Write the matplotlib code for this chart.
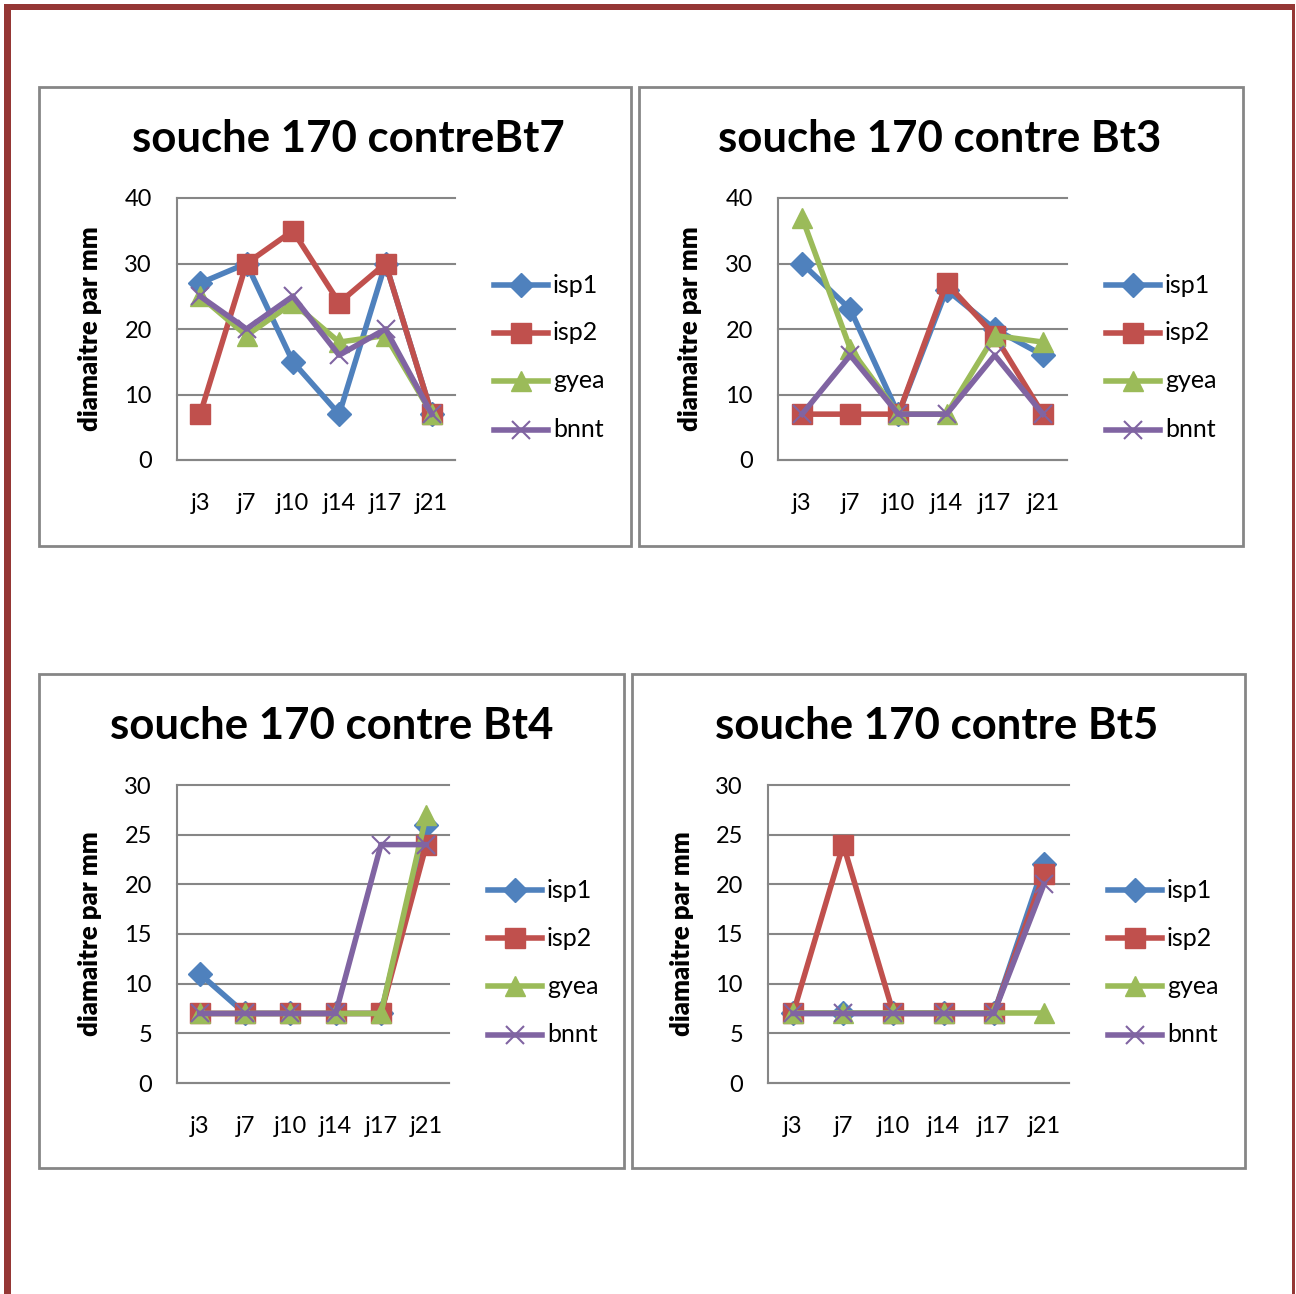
import matplotlib
matplotlib.use("Agg")
import matplotlib.pyplot as plt
from matplotlib.patches import Rectangle
from matplotlib.lines import Line2D

plt.rcParams['font.family'] = ['Lato', 'DejaVu Sans']

# ---------------- data ----------------
days = ["j3", "j7", "j10", "j14", "j17", "j21"]
series_names = ["isp1", "isp2", "gyea", "bnnt"]

titles = ["souche 170 contreBt7", "souche 170 contre Bt3",
          "souche 170 contre Bt4", "souche 170 contre Bt5"]
ylabel = "diamaitre par mm"

# Bt7
bt7_isp1 = [27, 30, 15, 7, 30, 7]
bt7_isp2 = [7, 30, 35, 24, 30, 7]
bt7_gyea = [25, 19, 24, 18, 19, 7]
bt7_bnnt = [25, 20, 25, 16, 20, 7]
# Bt3
bt3_isp1 = [30, 23, 7, 26, 20, 16]
bt3_isp2 = [7, 7, 7, 27, 19, 7]
bt3_gyea = [37, 17, 7, 7, 19, 18]
bt3_bnnt = [7, 16, 7, 7, 16, 7]
# Bt4
bt4_isp1 = [11, 7, 7, 7, 7, 26]
bt4_isp2 = [7, 7, 7, 7, 7, 24]
bt4_gyea = [7, 7, 7, 7, 7, 27]
bt4_bnnt = [7, 7, 7, 7, 24, 24]
# Bt5
bt5_isp1 = [7, 7, 7, 7, 7, 22]
bt5_isp2 = [7, 24, 7, 7, 7, 21]
bt5_gyea = [7, 7, 7, 7, 7, 7]
bt5_bnnt = [7, 7, 7, 7, 7, 20]

yticks_40 = [0, 10, 20, 30, 40]
yticks_30 = [0, 5, 10, 15, 20, 25, 30]

# ---------------- styles ----------------
W, H = 1296, 1294
colors = ["#4F81BD", "#C0504D", "#9BBB59", "#8064A2"]
markers = ["D", "s", "^", "x"]
msizes = [12, 14, 15, 13]
gray = "#868686"
border_red = "#953735"

fig = plt.figure(figsize=(W / 100, H / 100), dpi=100)


def fx(x):
    return x / W


def fy(y):
    return 1 - y / H


def rect_px(x0, y0, x1, y1, **kw):
    fig.add_artist(Rectangle((fx(x0), fy(y1)), fx(x1) - fx(x0), fy(y0) - fy(y1),
                             transform=fig.transFigure, **kw))


# page border
rect_px(4, 4, 1294, 10, facecolor=border_red, edgecolor="none", zorder=-10)
rect_px(4, 4, 11, 1294, facecolor=border_red, edgecolor="none", zorder=-10)
rect_px(1292, 4, 1294.5, 1294, facecolor=border_red, edgecolor="none", zorder=-10)

charts = [
    dict(box=(39, 87, 631, 546), plot=(177, 198, 455, 460), yt=yticks_40,
         data=[bt7_isp1, bt7_isp2, bt7_gyea, bt7_bnnt],
         title_xy=(348, 139), ylab_x=90, leg_x=494, leg_y=[285, 333, 381, 430]),
    dict(box=(639, 87, 1243, 546), plot=(778, 198, 1067, 460), yt=yticks_40,
         data=[bt3_isp1, bt3_isp2, bt3_gyea, bt3_bnnt],
         title_xy=(940, 139), ylab_x=690, leg_x=1106, leg_y=[285, 333, 381, 430]),
    dict(box=(39, 674, 624, 1168), plot=(177, 785, 449, 1083), yt=yticks_30,
         data=[bt4_isp1, bt4_isp2, bt4_gyea, bt4_bnnt],
         title_xy=(332, 726), ylab_x=90, leg_x=488, leg_y=[890, 938, 986, 1035]),
    dict(box=(632, 674, 1245, 1168), plot=(768, 785, 1069, 1083), yt=yticks_30,
         data=[bt5_isp1, bt5_isp2, bt5_gyea, bt5_bnnt],
         title_xy=(937, 726), ylab_x=682, leg_x=1108, leg_y=[890, 938, 986, 1035]),
]

for c, title in zip(charts, titles):
    bx0, by0, bx1, by1 = c["box"]
    rect_px(bx0, by0, bx1, by1, facecolor="white", edgecolor=gray, linewidth=2,
            zorder=-5)

    l, t, r, b = c["plot"]
    ax = fig.add_axes([fx(l), fy(b), fx(r) - fx(l), fy(t) - fy(b)])
    ax.set_facecolor("none")
    yt = c["yt"]
    ax.set_xlim(-0.5, len(days) - 0.5)
    ax.set_ylim(yt[0], yt[-1])
    for yv in yt:
        ax.axhline(yv, color=gray, lw=1.5, zorder=0.5, clip_on=False)
    for s in ["top", "right"]:
        ax.spines[s].set_visible(False)
    for s in ["left", "bottom"]:
        ax.spines[s].set_color(gray)
        ax.spines[s].set_linewidth(1.5)
    ax.set_yticks(yt)
    ax.set_xticks(range(len(days)))
    ax.set_xticklabels(days)
    ax.tick_params(axis="y", length=0, pad=18, labelsize=17)
    ax.tick_params(axis="x", length=0, pad=23.5, labelsize=17)

    for vals, col, mk, ms in zip(c["data"], colors, markers, msizes):
        ax.plot(range(len(days)), vals, color=col, lw=4, marker=mk, ms=ms,
                mec=col, mfc=col, mew=1.5 if mk == "x" else 1, clip_on=False,
                zorder=3)

    tx, ty = c["title_xy"]
    fig.text(fx(tx), fy(ty), title, ha="center", va="center",
             fontsize=31.5, fontweight="bold")
    fig.text(fx(c["ylab_x"]), (fy(t) + fy(b)) / 2, ylabel, rotation=90,
             ha="center", va="center", fontsize=18.5, fontweight="heavy")

    lx = c["leg_x"]
    for name, col, mk, ms, ly in zip(series_names, colors, markers, msizes, c["leg_y"]):
        fig.add_artist(Line2D([fx(lx), fx(lx + 54)], [fy(ly), fy(ly)],
                              transform=fig.transFigure, color=col, lw=4))
        fig.add_artist(Line2D([fx(lx + 27)], [fy(ly)], transform=fig.transFigure,
                              color=col, marker=mk, ms=ms, mec=col, mfc=col,
                              mew=1.5 if mk == "x" else 1, linestyle="none"))
        fig.text(fx(lx + 59), fy(ly), name, ha="left", va="center", fontsize=18)

fig.savefig("out.png", dpi=100)
